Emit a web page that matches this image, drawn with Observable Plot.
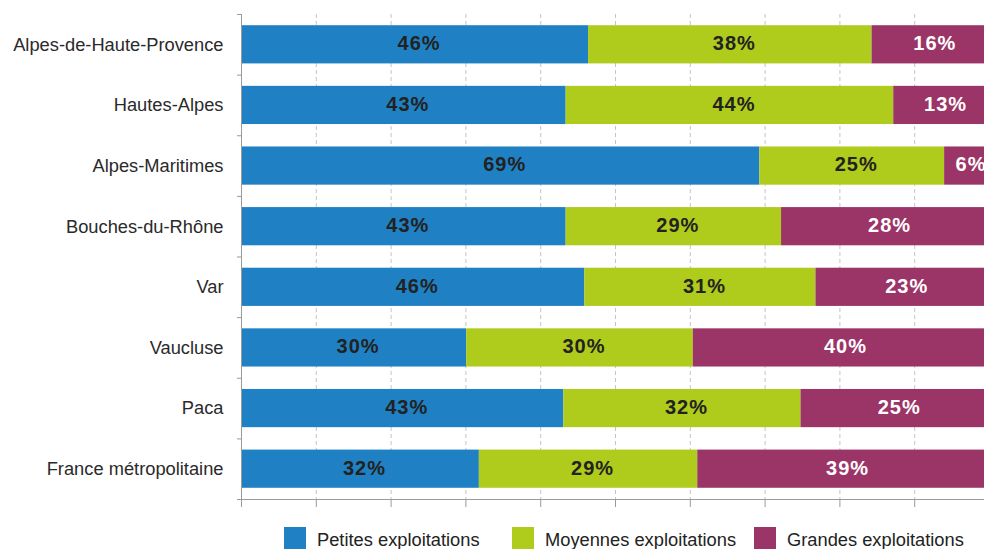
<!DOCTYPE html>
<html>
<head>
<meta charset="utf-8">
<script src="https://cdn.jsdelivr.net/npm/d3@7"></script>
<script src="https://cdn.jsdelivr.net/npm/@observablehq/plot@0.6"></script>
<style>
  html, body { margin: 0; padding: 0; background: #fff; overflow: hidden; width: 984px; height: 549px; }
  #chart svg { display: block; }
  .legend { position: relative; height: 23px; margin-top: 11px; font-family: "Liberation Sans", Arial, sans-serif; font-size: 18.3px; color: #222; white-space: nowrap; }
  .legend .item { position: absolute; top: 0; display: flex; align-items: flex-start; }
  .legend .sw { width: 22px; height: 23px; margin-right: 11px; flex-shrink: 0; }
  .legend .lbl { line-height: 23px; margin-top: 1px; }
</style>
</head>
<body>
<div id="chart"></div>
<script>
const categories = ["Alpes-de-Haute-Provence", "Hautes-Alpes", "Alpes-Maritimes", "Bouches-du-Rhône", "Var", "Vaucluse", "Paca", "France métropolitaine"];
const series = ["Petites exploitations", "Moyennes exploitations", "Grandes exploitations"];
const petites  = [46.4, 43.4, 69.3, 43.4, 45.9, 30.1, 43.1, 31.8];
const moyennes = [37.9, 43.8, 24.7, 28.8, 30.9, 30.3, 31.7, 29.2];
const grandes  = [15.7, 12.8, 6.0, 27.8, 23.2, 39.6, 25.2, 39.0];
const xTicks = [0, 10, 20, 30, 40, 50, 60, 70, 80, 90, 100];
const colors = ["#1f81c4", "#afcb1c", "#9b3467"];

const seriesValues = [petites, moyennes, grandes];
const data = [];
categories.forEach((cat, i) => {
  series.forEach((type, j) => data.push({cat, type, value: seriesValues[j][i]}));
});

const H = 516, mTop = 14, mBottom = 17;
const step = (H - mTop - mBottom) / categories.length;
const font = "Liberation Sans, Arial, sans-serif";

const chart = Plot.plot({
  width: 984,
  height: H,
  marginTop: mTop,
  marginBottom: mBottom,
  marginLeft: 237,
  marginRight: 0,
  style: {fontFamily: font, background: "white"},
  x: {domain: [0, 100], range: [241, 989]},
  y: {domain: categories, paddingInner: 0.37, paddingOuter: 0.185, round: false},
  color: {domain: series, range: colors},
  marks: [
    Plot.ruleX(xTicks.slice(1), {stroke: "#c4c4c4", strokeDasharray: "4,3"}),
    Plot.barX(data, Plot.stackX({x: "value", y: "cat", fill: "type"})),
    Plot.text(data, Plot.stackX({
      x: "value", y: "cat", z: "type", text: d => d.type !== series[2] ? Math.round(d.value) + "%" : "",
      fill: "#222", fontSize: 20, fontWeight: "bold", dx: 4, dy: -1
    })),
    Plot.text(data, Plot.stackX({
      x: "value", y: "cat", z: "type", text: d => d.type === series[2] ? Math.round(d.value) + "%" : "",
      fill: "white", fontSize: 20, fontWeight: "bold", dx: 4, dy: -1
    })),
    Plot.ruleX([0], {stroke: "#9a9a9a"}),
    Plot.ruleY(categories, {y: d => d, x1: -0.53, x2: 0, dy: -step / 2, stroke: "#9a9a9a"}),
    Plot.ruleY([categories[categories.length - 1]], {y: d => d, dy: step / 2, stroke: "#9a9a9a"}),
    Plot.axisX({ticks: xTicks, tickSize: 8, tickFormat: () => "", stroke: "#9a9a9a", label: null}),
    Plot.axisY({tickSize: 0, tickPadding: 14, fontSize: 18.3, fill: "#2a2a2a", label: null})
  ]
});
d3.select(chart).selectAll('g[aria-label="text"] text').style("letter-spacing", "1px");
document.getElementById("chart").appendChild(chart);

const legendLeft = [284, 512, 754];
const legend = document.createElement("div");
legend.className = "legend";
series.forEach((s, i) => {
  const item = document.createElement("div");
  item.className = "item";
  item.style.left = legendLeft[i] + "px";
  const sw = document.createElement("div");
  sw.className = "sw";
  sw.style.background = colors[i];
  const t = document.createElement("span");
  t.className = "lbl";
  t.textContent = s;
  item.appendChild(sw);
  item.appendChild(t);
  legend.appendChild(item);
});
document.body.appendChild(legend);
</script>
</body>
</html>
